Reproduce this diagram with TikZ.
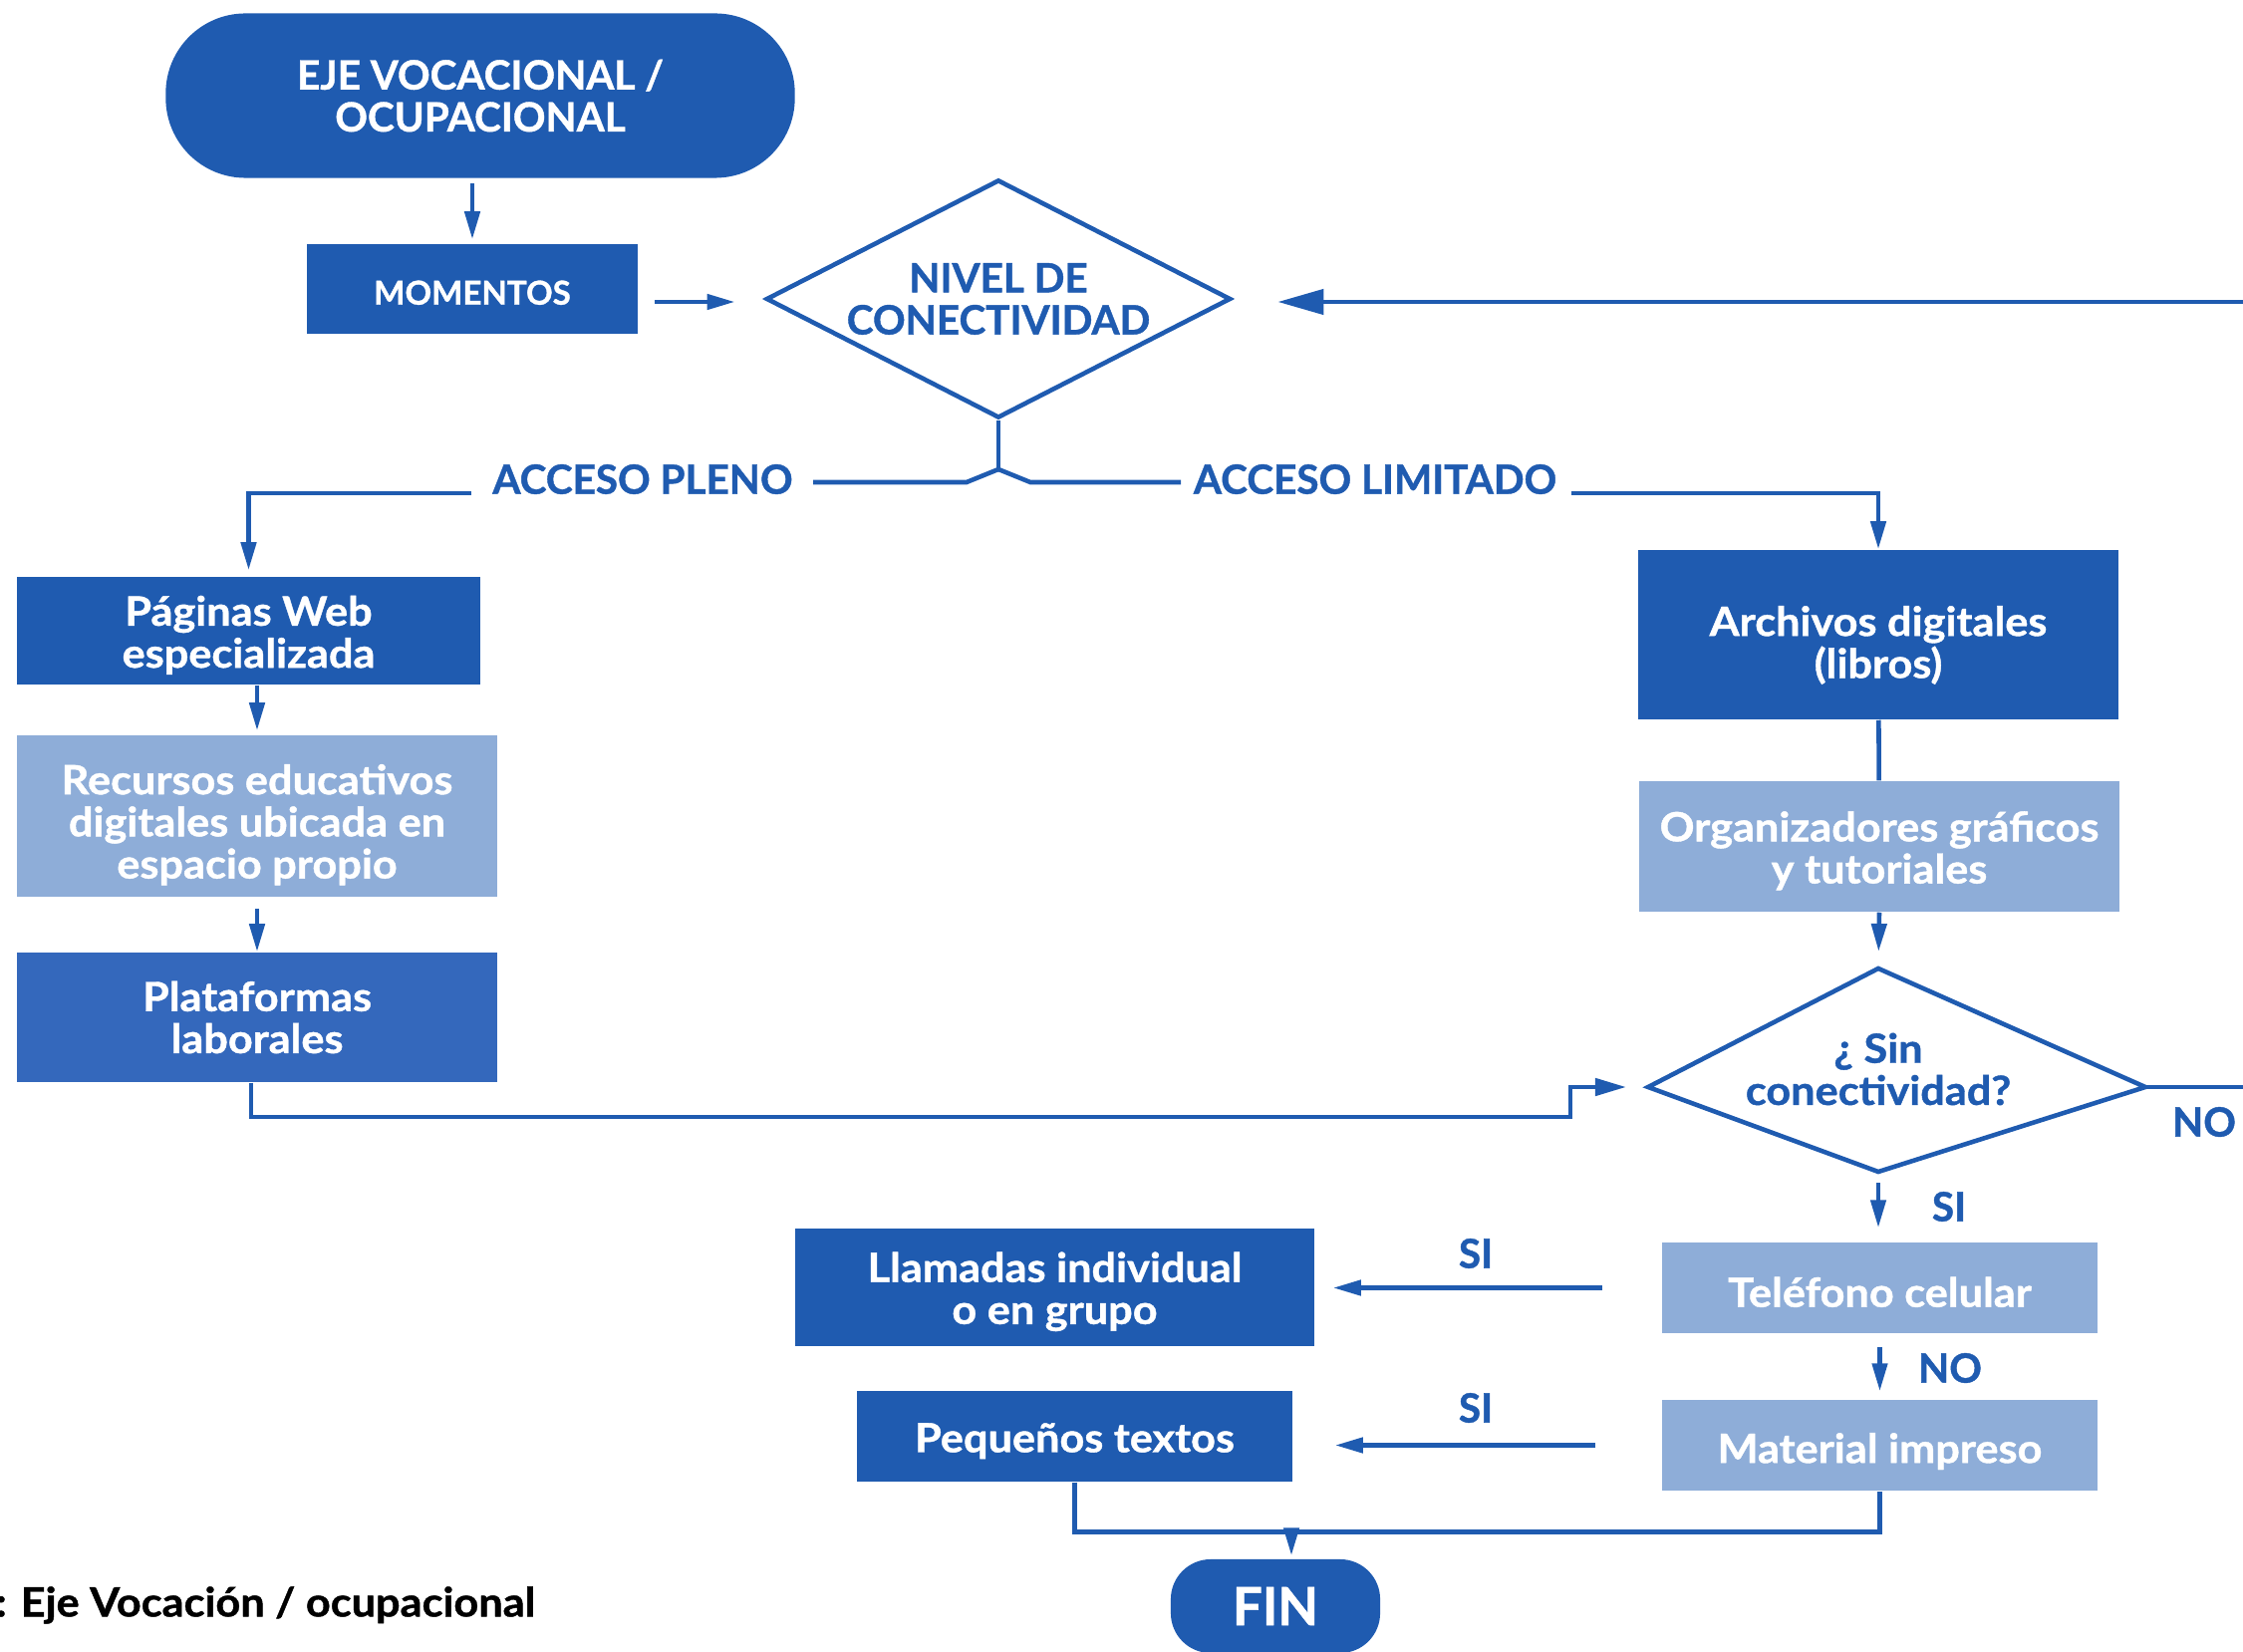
\documentclass[tikz,border=0pt]{standalone}
\usepackage{fontspec}
\setmainfont{Lato}
\usepackage{xcolor}
\usetikzlibrary{shapes.geometric,arrows.meta,positioning}

\definecolor{azul}{HTML}{1F5BB0}
\definecolor{azulmedio}{HTML}{3468BC}
\definecolor{celeste}{HTML}{8EADD8}
\newcommand{\cajafont}{\fontsize{11.5}{12}\selectfont\bfseries\addfontfeatures{FakeBold=1}}
\newcommand{\letrafont}{\fontsize{11.5}{12}\selectfont\bfseries\addfontfeatures{FakeBold=1,FakeStretch=1.07}}
\newcommand{\st}[1][11pt]{\rule{0pt}{#1}}

\begin{document}
\begin{tikzpicture}[x=0.01cm,y=-0.01cm,
	linea/.style={draw=azul,line width=1.3pt},
	flecha/.style={linea,-{Triangle[length=0.28cm,width=0.15cm]}},
	flechamedia/.style={linea,-{Triangle[length=0.31cm,width=0.17cm]}},
	flechagrande/.style={linea,-{Triangle[length=0.46cm,width=0.25cm]}},
	caja/.style={rectangle,fill=azul,text=white,font=\letrafont,align=center,inner sep=0pt},
	cajaclara/.style={caja,fill=celeste},
	terminal/.style={caja,font=\cajafont,rounded corners=#1},
	rombo/.style={diamond,draw=azul,line width=1.3pt,text=azul,font=\cajafont,align=center,inner sep=0pt},
	etiqueta/.style={text=azul,font=\cajafont,inner sep=0pt}]
		\useasboundingbox (0,0) rectangle (2251,1658);
		%
		\node[terminal=0.8cm,minimum width=6.31cm,minimum height=1.65cm] (inicio) at (482,96) {EJE VOCACIONAL /\\OCUPACIONAL};
		\node[caja,font=\fontsize{9.4}{10}\selectfont\bfseries\addfontfeatures{FakeBold=1},minimum width=3.32cm,minimum height=0.90cm] (momentos) at (474,290) {\st[9pt]MOMENTOS};
		\node[rombo,aspect=1.95,minimum width=4.66cm,minimum height=2.39cm] (nivel) at (1002,300) {NIVEL DE\\CONECTIVIDAD};
		%
		\node[caja,minimum width=4.65cm,minimum height=1.08cm] (paginas) at (249.5,633) {\st Páginas Web\\especializada};
		\node[cajaclara,minimum width=4.82cm,minimum height=1.62cm] (recursos) at (258,819) {\st[13.5pt]Recursos educativos\\digitales ubicada en\\espacio propio};
		\node[caja,fill=azulmedio,minimum width=4.82cm,minimum height=1.30cm] (plataformas) at (258,1021) {Plataformas\\laborales};
		%
		\node[caja,minimum width=4.82cm,minimum height=1.70cm] (archivos) at (1885,637) {\st[14.5pt]Archivos digitales\\(libros)};
		\node[cajaclara,minimum width=4.82cm,minimum height=1.31cm] (organizadores) at (1886,849.5) {\st Organizadores gráficos\\y tutoriales};
		\node[etiqueta,font=\letrafont,align=center] (sin) at (1885,1073) {¿ Sin\\conectividad?};
		\draw[linea] (1654,1091) coordinate (sinW) -- (1885,972) coordinate (sinN)
			-- (2153,1091) coordinate (sinE) -- (1885,1176) coordinate (sinS) -- cycle;
		\node[cajaclara,minimum width=4.37cm,minimum height=0.91cm] (telefono) at (1886.5,1292.5) {\st Teléfono celular};
		\node[cajaclara,minimum width=4.37cm,minimum height=0.91cm] (material) at (1886.5,1450.5) {\st[12pt]Material impreso};
		\node[caja,minimum width=5.21cm,minimum height=1.18cm] (llamadas) at (1058.5,1292) {\st Llamadas individual\\o en grupo};
		\node[caja,minimum width=4.37cm,minimum height=0.91cm] (pequenos) at (1078.5,1441.5) {\st Pequeños textos};
		\node[terminal=0.4cm,minimum width=2.10cm,minimum height=0.94cm,font=\fontsize{15}{16}\selectfont\bfseries\addfontfeatures{FakeBold=1}] (fin) at (1280,1612) {FIN};
		%
		\node[etiqueta] (pleno) at (645,481) {ACCESO PLENO};
		\node[etiqueta] (limitado) at (1380,481) {ACCESO LIMITADO};
		\node[etiqueta] (si1) at (1956,1211) {SI};
		\node[etiqueta] (si2) at (1481,1258) {SI};
		\node[etiqueta] (no1) at (1957,1373) {NO};
		\node[etiqueta] (si3) at (1481,1413) {SI};
		\node[etiqueta] (no2) at (2212,1126) {NO};
		\node[etiqueta,font=\letrafont,text=black,anchor=east] (leyenda) at (538,1611) {: Eje Vocación / ocupacional};
		%
		\draw[flecha,shorten <=0.05cm,shorten >=0.04cm] (momentos.north |- inicio.south) -- (momentos.north);
		\draw[flecha,shorten <=0.16cm,shorten >=0.29cm] (momentos.east |- 0,303) -- (nivel.west |- 0,303);
		\draw[flechagrande,shorten >=0.45cm] (sinE) -- ++(120,0) |- (nivel.east |- 0,303);
		%
		\draw[linea] (nivel.south) -- (1002,471) coordinate (bif);
		\draw[linea] (bif) -- ++(-32,13) -- ++(-154,0);
		\draw[linea] (bif) -- ++(32,13) -- ++(151,0);
		\draw[flecha,shorten >=0.06cm] (473,495) -| (paginas.north);
		\draw[flecha] (1577,495) -| (archivos.north);
		%
		\draw[flecha,shorten >=0.04cm] (recursos.north |- paginas.south) -- (recursos.north);
		\draw[flecha,shorten <=0.11cm] (recursos) -- (plataformas);
		\draw[flechamedia,shorten >=0.22cm] ([xshift=-0.06cm]plataformas.south) |- (1576,1121) |- (sinW);
		%
		\draw[linea] (archivos) -- (organizadores);
		\draw[flecha,shorten >=0.17cm] (organizadores.south) -- (sinN);
		\draw[flecha,shorten <=0.11cm,shorten >=0.14cm] (sinS) -- (sinS |- telefono.north);
		\draw[flecha,shorten <=0.59cm,shorten >=0.18cm] (telefono.west) -- (llamadas.east |- telefono.west);
		\draw[flecha,shorten <=0.13cm,shorten >=0.08cm] (telefono) -- (material);
		\draw[flecha,shorten <=0.66cm,shorten >=0.42cm] (material.west) -- (pequenos.east |- material.west);
		\draw[linea] (pequenos.south) -- ++(0,50) -| (material.south);
		\draw[flecha,shorten >=0.03cm] ([xshift=0.16cm]fin.north) ++(0,-29) -- ([xshift=0.16cm]fin.north);
	\end{tikzpicture}
\end{document}
